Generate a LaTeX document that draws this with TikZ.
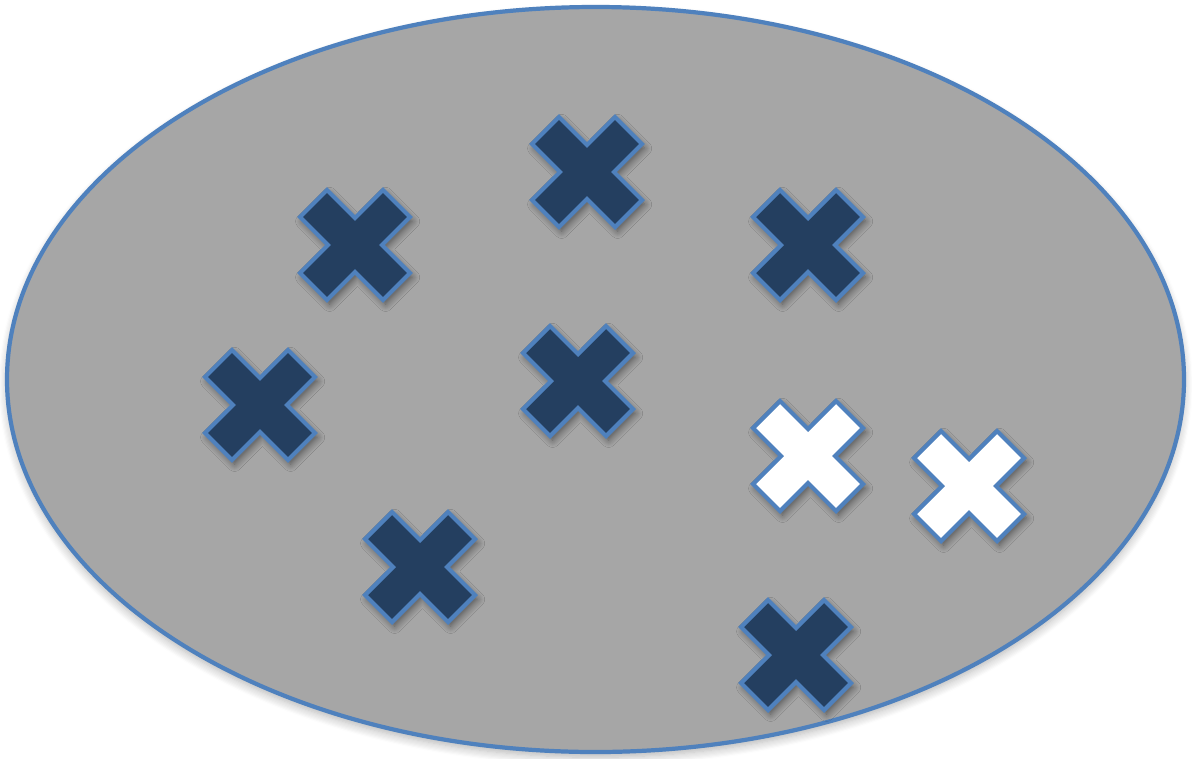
\documentclass[tikz,border=0pt]{standalone}
\usepackage{xcolor}
\usepackage{tikz}
\usetikzlibrary{shadows.blur}
\definecolor{setgray}{HTML}{A6A6A6}
\definecolor{edgeblue}{HTML}{4F81BD}
\definecolor{navy}{HTML}{243F60}
\tikzset{
  setline/.style={draw=edgeblue,line width=2.4pt,fill=setgray,
    blur shadow={shadow xshift=0pt,shadow yshift=-3pt,shadow blur radius=5pt,
      shadow blur steps=8,shadow opacity=30}},
  xshape/.style={draw=edgeblue,line width=2.4pt,line join=miter,
    blur shadow={shadow xshift=1.5pt,shadow yshift=-2.5pt,shadow blur radius=4pt,
      shadow blur steps=8,shadow opacity=50}},
  xdark/.style={xshape,fill=navy},
  xlight/.style={xshape,fill=white},
  pics/xmark/.style={code={
    \path[#1] (0,27)--(28,55)--(55,28)--(27,0)--(55,-28)--(28,-55)
      --(0,-27)--(-28,-55)--(-55,-28)--(-27,0)--(-55,28)--(-28,55)--cycle;
  }},
}

\begin{document}
\begin{tikzpicture}[x=0.02cm,y=-0.02cm]
\useasboundingbox (0,0) rectangle (1192,758);

% the set
\path[setline] (595.5,379.5) ellipse [x radius=588.5,y radius=372.5];
\coordinate (setc) at (595.5,379.5);

% dark marks
\foreach \n/\p in {a/{355,245},b/{587,172},c/{808,245},d/{260,405},
                   e/{578,381},f/{420,567},g/{796,655}}
  \pic (m\n) at (\p) {xmark=xdark};

% white marks
\pic (mh) at (808,456) {xmark=xlight};
\pic (mi) at (969,486) {xmark=xlight};
\end{tikzpicture}
\end{document}
